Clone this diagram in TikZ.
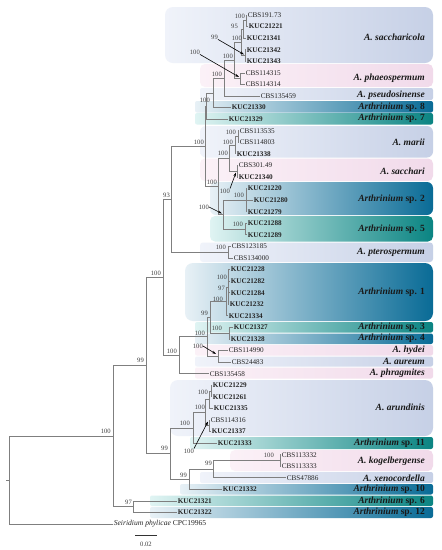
\documentclass[tikz,border=0pt]{standalone}
\usepackage{fontspec}
\setmainfont{Liberation Serif}
\usetikzlibrary{arrows.meta}
\definecolor{treegray}{HTML}{7F7F7F}
\definecolor{bsgray}{HTML}{404040}
\definecolor{lgL}{HTML}{F0F3FA}\definecolor{lgR}{HTML}{C6D0E6}
\definecolor{pkL}{HTML}{FBF1F7}\definecolor{pkR}{HTML}{F1DAEA}
\definecolor{blL}{HTML}{E8F1F6}\definecolor{blR}{HTML}{096B96}
\definecolor{tlL}{HTML}{E0F4F3}\definecolor{tlR}{HTML}{0A8482}
\begin{document}
\begin{tikzpicture}[x=1pt,y=-1pt,
  br/.style={draw=treegray, line width=0.8pt},
  leaf/.style={anchor=west, inner sep=0.6pt, font=\fontsize{7.2}{8}\selectfont, text=black!85},
  kuc/.style={leaf, font=\fontsize{7.2}{8}\selectfont\bfseries},
  bs/.style={anchor=east, inner sep=0pt, font=\fontsize{6.6}{7}\selectfont, text=bsgray},
  splab/.style={anchor=east, inner sep=0pt, font=\fontsize{9.5}{10}\selectfont\bfseries\itshape, text=black!90},
  arr/.style={-{Stealth[length=4pt,width=2.6pt]}, line width=0.6pt, black},
  lgbox/.style={left color=lgL, right color=lgR},
  pkbox/.style={left color=pkL, right color=pkR},
  blbox/.style={left color=blL, right color=blR},
  tlbox/.style={left color=tlL, right color=tlR},
]
\useasboundingbox (0,0) rectangle (442,550);
\fill[white] (0,0) rectangle (442,550);
% ---------- coloured clade boxes ----------
\shade[lgbox, rounded corners=8pt] (165,7) rectangle (433,63);
\shade[pkbox, rounded corners=5pt] (200,64) rectangle (433,87);
\shade[lgbox, rounded corners=2pt] (200,88) rectangle (433,100);
\shade[blbox, rounded corners=2pt] (195,101) rectangle (433,112.5);
\shade[tlbox, rounded corners=2pt] (195,113) rectangle (433,124.5);
\shade[lgbox, rounded corners=6pt] (200,126) rectangle (433,157.5);
\shade[pkbox, rounded corners=5pt] (200,158.5) rectangle (433,181);
\shade[blbox, rounded corners=6pt] (210,182) rectangle (433,215);
\shade[tlbox, rounded corners=5pt] (210,216) rectangle (433,241.5);
\shade[lgbox, rounded corners=3pt] (200,242.5) rectangle (433,262);
\shade[blbox, rounded corners=8pt] (185,263) rectangle (433,321);
\shade[tlbox, rounded corners=2pt] (195,322) rectangle (433,332.5);
\shade[blbox, rounded corners=2pt] (195,333.5) rectangle (433,344);
\shade[pkbox, rounded corners=2pt] (195,345) rectangle (433,355.5);
\shade[lgbox, rounded corners=2pt] (195,356.5) rectangle (433,366.5);
\shade[pkbox, rounded corners=2pt] (195,367.5) rectangle (433,378.5);
\shade[lgbox, rounded corners=8pt] (170,380) rectangle (433,436);
\shade[tlbox, rounded corners=2pt] (190,437) rectangle (433,449);
\shade[pkbox, rounded corners=5pt] (230,450) rectangle (433,471);
\shade[lgbox, rounded corners=2pt] (200,472) rectangle (433,483);
\shade[blbox, rounded corners=2pt] (180,484) rectangle (433,494.5);
\shade[tlbox, rounded corners=2pt] (150,495.5) rectangle (433,506);
\shade[blbox, rounded corners=2pt] (150,507) rectangle (433,518);
% ---------- species labels ----------
\node[splab] (c1) at (425,37) {A. saccharicola};
\node[splab] (c2) at (425,78) {A. phaeospermum};
\node[splab] (c3) at (425,95) {A. pseudosinense};
\node[splab] (c4) at (425,107) {Arthrinium \upshape sp. 8};
\node[splab] (c5) at (425,118.5) {Arthrinium \upshape sp. 7};
\node[splab] (c6) at (425,142) {A. marii};
\node[splab] (c7) at (425,171) {A. sacchari};
\node[splab] (c8) at (425,199) {Arthrinium \upshape sp. 2};
\node[splab] (c9) at (425,229) {Arthrinium \upshape sp. 5};
\node[splab] (c10) at (425,252) {A. pterospermum};
\node[splab] (c11) at (425,292) {Arthrinium \upshape sp. 1};
\node[splab] (c12) at (425,327) {Arthrinium \upshape sp. 3};
\node[splab] (c13) at (425,338.5) {Arthrinium \upshape sp. 4};
\node[splab] (c14) at (425,350) {A. hydei};
\node[splab] (c15) at (425,361.5) {A. aureum};
\node[splab] (c16) at (425,373) {A. phragmites};
\node[splab] (c17) at (425,407) {A. arundinis};
\node[splab] (c18) at (425,443) {Arthrinium \upshape sp. 11};
\node[splab] (c19) at (425,461) {A. kogelbergense};
\node[splab] (c20) at (425,478) {A. xenocordella};
\node[splab] (c21) at (425,489.5) {Arthrinium \upshape sp. 10};
\node[splab] (c22) at (425,501) {Arthrinium \upshape sp. 6};
\node[splab] (c23) at (425,512.5) {Arthrinium \upshape sp. 12};
% ---------- leaves ----------
\coordinate (l1) at (247,15.0);  \node[leaf] (t1) at (l1) {CBS191.73};
\coordinate (l2) at (248,26.6);  \node[kuc] (t2) at (l2) {KUC21221};
\coordinate (l3) at (246,38.1);  \node[kuc] (t3) at (l3) {KUC21341};
\coordinate (l4) at (246,49.7);  \node[kuc] (t4) at (l4) {KUC21342};
\coordinate (l5) at (246,61.3);  \node[kuc] (t5) at (l5) {KUC21343};
\coordinate (l6) at (245,72.9);  \node[leaf] (t6) at (l6) {CBS114315};
\coordinate (l7) at (245,84.4);  \node[leaf] (t7) at (l7) {CBS114314};
\coordinate (l8) at (260,96.0);  \node[leaf] (t8) at (l8) {CBS135459};
\coordinate (l9) at (231,107.6); \node[kuc] (t9) at (l9) {KUC21330};
\coordinate (l10) at (228,119.1); \node[kuc] (t10) at (l10) {KUC21329};
\coordinate (l11) at (239,130.7); \node[leaf] (t11) at (l11) {CBS113535};
\coordinate (l12) at (239,142.3); \node[leaf] (t12) at (l12) {CBS114803};
\coordinate (l13) at (236,153.8); \node[kuc] (t13) at (l13) {KUC21338};
\coordinate (l14) at (238,165.4); \node[leaf] (t14) at (l14) {CBS301.49};
\coordinate (l15) at (238,177.0); \node[kuc] (t15) at (l15) {KUC21340};
\coordinate (l16) at (247,188.6); \node[kuc] (t16) at (l16) {KUC21220};
\coordinate (l17) at (253,200.1); \node[kuc] (t17) at (l17) {KUC21280};
\coordinate (l18) at (247,211.7); \node[kuc] (t18) at (l18) {KUC21279};
\coordinate (l19) at (247,223.3); \node[kuc] (t19) at (l19) {KUC21288};
\coordinate (l20) at (247,234.8); \node[kuc] (t20) at (l20) {KUC21289};
\coordinate (l21) at (231,246.4); \node[leaf] (t21) at (l21) {CBS123185};
\coordinate (l22) at (233,258.0); \node[leaf] (t22) at (l22) {CBS134000};
\coordinate (l23) at (230,269.5); \node[kuc] (t23) at (l23) {KUC21228};
\coordinate (l24) at (230,281.1); \node[kuc] (t24) at (l24) {KUC21282};
\coordinate (l25) at (230,292.7); \node[kuc] (t25) at (l25) {KUC21284};
\coordinate (l26) at (229,304.3); \node[kuc] (t26) at (l26) {KUC21232};
\coordinate (l27) at (228,315.8); \node[kuc] (t27) at (l27) {KUC21334};
\coordinate (l28) at (233,327.4); \node[kuc] (t28) at (l28) {KUC21327};
\coordinate (l29) at (230,339.0); \node[kuc] (t29) at (l29) {KUC21328};
\coordinate (l30) at (228,350.5); \node[leaf] (t30) at (l30) {CBS114990};
\coordinate (l31) at (231,362.1); \node[leaf] (t31) at (l31) {CBS24483};
\coordinate (l32) at (209,373.7); \node[leaf] (t32) at (l32) {CBS135458};
\coordinate (l33) at (212,385.2); \node[kuc] (t33) at (l33) {KUC21229};
\coordinate (l34) at (212,396.8); \node[kuc] (t34) at (l34) {KUC21261};
\coordinate (l35) at (213,408.4); \node[kuc] (t35) at (l35) {KUC21335};
\coordinate (l36) at (210,420.0); \node[leaf] (t36) at (l36) {CBS114316};
\coordinate (l37) at (211,431.5); \node[kuc] (t37) at (l37) {KUC21337};
\coordinate (l38) at (217,443.1); \node[kuc] (t38) at (l38) {KUC21333};
\coordinate (l39) at (281,454.7); \node[leaf] (t39) at (l39) {CBS113332};
\coordinate (l40) at (281,466.2); \node[leaf] (t40) at (l40) {CBS113333};
\coordinate (l41) at (286,477.8); \node[leaf] (t41) at (l41) {CBS47886};
\coordinate (l42) at (222,489.4); \node[kuc] (t42) at (l42) {KUC21332};
\coordinate (l43) at (177,500.9); \node[kuc] (t43) at (l43) {KUC21321};
\coordinate (l44) at (177,512.5); \node[kuc] (t44) at (l44) {KUC21322};
\coordinate (l45) at (113,524.1); \node[leaf, font=\fontsize{7.6}{8}\selectfont] (t45) at (l45) {\textit{Seiridium phylicae} CPC19965};
% ---------- internal nodes ----------
\coordinate (s1) at (246,20.8);
\coordinate (s2) at (243,29.5);
\coordinate (s3) at (245,55.5);
\coordinate (s4) at (241,42.5);
\coordinate (X) at (240,78.6);
\coordinate (W) at (234,60.6);
\coordinate (V) at (224,78.3);
\coordinate (Y) at (213,93.0);
\coordinate (Z) at (206,106.0);
\coordinate (m1) at (238,136.5);
\coordinate (m2) at (235,145.2);
\coordinate (sa) at (237,171.2);
\coordinate (ms) at (229,158.2);
\coordinate (n2) at (246,200.1);
\coordinate (n5) at (245,229.0);
\coordinate (R2) at (223,214.6);
\coordinate (Q) at (218,186.4);
\coordinate (U) at (205,146.2);
\coordinate (P) at (228,252.2);
\coordinate (T) at (171,199.2);
\coordinate (G1) at (228,286.9);
\coordinate (G) at (226,301.4);
\coordinate (H) at (229,333.2);
\coordinate (F) at (210,317.3);
\coordinate (J) at (218,356.3);
\coordinate (E) at (207,336.8);
\coordinate (D) at (179,355.2);
\coordinate (A) at (163,277.2);
\coordinate (a1) at (211,391.0);
\coordinate (a2) at (209,399.7);
\coordinate (a3) at (209,425.8);
\coordinate (Arn) at (205,412.7);
\coordinate (Ar) at (193,427.9);
\coordinate (kg) at (280,460.5);
\coordinate (Kg) at (213,469.1);
\coordinate (Kx) at (189,479.3);
\coordinate (Lw) at (170,453.6);
\coordinate (N) at (146,365.4);
\coordinate (K97) at (133,506.7);
\coordinate (I) at (113,436.0);
\coordinate (R) at (9,480.0);
\coordinate (R0) at (6,480.0);
% ---------- branches ----------
\foreach \p/\c in {s1/l1,s1/l2,s2/s1,s2/l3,s3/l4,s3/l5,s4/s2,s4/s3,X/l6,X/l7,
  W/s4,W/X,V/W,V/l8,Y/V,Y/l9,Z/Y,Z/l10,m1/l11,m1/l12,m2/m1,m2/l13,sa/l14,sa/l15,
  ms/m2,ms/sa,n2/l16,n2/l17,n2/l18,n5/l19,n5/l20,R2/n2,R2/n5,Q/ms,Q/R2,U/Z,U/Q,
  P/l21,P/l22,T/U,T/P,G1/l23,G1/l24,G1/l25,G1/l26,G/G1,G/l27,H/l28,H/l29,F/G,F/H,
  J/l30,J/l31,E/F,E/J,D/E,D/l32,A/T,A/D,a1/l33,a1/l34,a2/a1,a2/l35,a3/l36,a3/l37,
  Arn/a2,Arn/a3,Ar/Arn,Ar/l38,kg/l39,kg/l40,Kg/kg,Kg/l41,Kx/Kg,Kx/l42,Lw/Ar,Lw/Kx,
  N/A,N/Lw,K97/l43,K97/l44,I/N,I/K97,R/I,R/l45}
  \draw[br] (\p) |- (\c);
\draw[br] (R0) -- (R);
% ---------- bootstrap values ----------
\node[bs] (b1) at (245,16) {100};
\node[bs] (b2) at (238,26) {95};
\node[bs] (b3) at (242,38) {100};
\node[bs] (b4) at (233,56) {100};
\node[bs] (b5) at (222,74) {100};
\node[bs] (b6) at (210,100) {100};
\node[bs] (b7) at (204,142) {100};
\node[bs] (b8) at (170,195) {93};
\node[bs] (b9) at (236,132) {100};
\node[bs] (b10) at (233,142) {100};
\node[bs] (b11) at (228,153) {100};
\node[bs] (b12) at (217,182) {100};
\node[bs] (b13) at (244,195) {100};
\node[bs] (b14) at (243,224) {100};
\node[bs] (b15) at (226,247) {100};
\node[bs] (b16) at (161,273) {100};
\node[bs] (b17) at (227,277) {100};
\node[bs] (b18) at (225,288) {97};
\node[bs] (b19) at (223,299) {100};
\node[bs] (b20) at (222,328) {100};
\node[bs] (b21) at (208,313) {99};
\node[bs] (b22) at (205,333) {100};
\node[bs] (b23) at (177,351) {100};
\node[bs] (b24) at (144,360) {99};
\node[bs] (b25) at (208,392) {100};
\node[bs] (b26) at (205,407) {100};
\node[bs] (b27) at (190,423) {100};
\node[bs] (b28) at (274,455) {100};
\node[bs] (b29) at (212,463) {99};
\node[bs] (b30) at (187,475) {99};
\node[bs] (b31) at (168,448) {99};
\node[bs] (b32) at (132,502) {97};
\node[bs] (b33) at (111,431) {100};
% ---------- arrowed bootstrap values ----------
\node[bs] (q1) at (218,37) {99};
\coordinate (q1t) at (244,54.5);
\draw[arr] (q1.south east) -- (q1t);
\node[bs] (q2) at (200,52) {100};
\coordinate (q2t) at (239,77);
\draw[arr] (q2.south east) -- (q2t);
\node[bs] (q3) at (230,191) {100};
\coordinate (q3t) at (236,172.5);
\draw[arr] (q3.north east) -- (q3t);
\node[bs] (q4) at (209,207) {100};
\coordinate (q4t) at (222,213.5);
\draw[arr] (q4.east) -- (q4t);
\node[bs] (q5) at (203,346) {100};
\coordinate (q5t) at (216,354);
\draw[arr] (q5.east) -- (q5t);
\node[bs] (q6) at (194,451) {100};
\coordinate (q6t) at (208,421.5);
\draw[arr] (q6.north east) -- (q6t);
% ---------- scale bar ----------
\coordinate (sb1) at (135,535);
\coordinate (sb2) at (157,535);
\draw[line width=0.8pt, black!80] (sb1) -- (sb2);
\node[bs, anchor=center] (sbl) at (146,544.5) {0.02};
\end{tikzpicture}
\end{document}
